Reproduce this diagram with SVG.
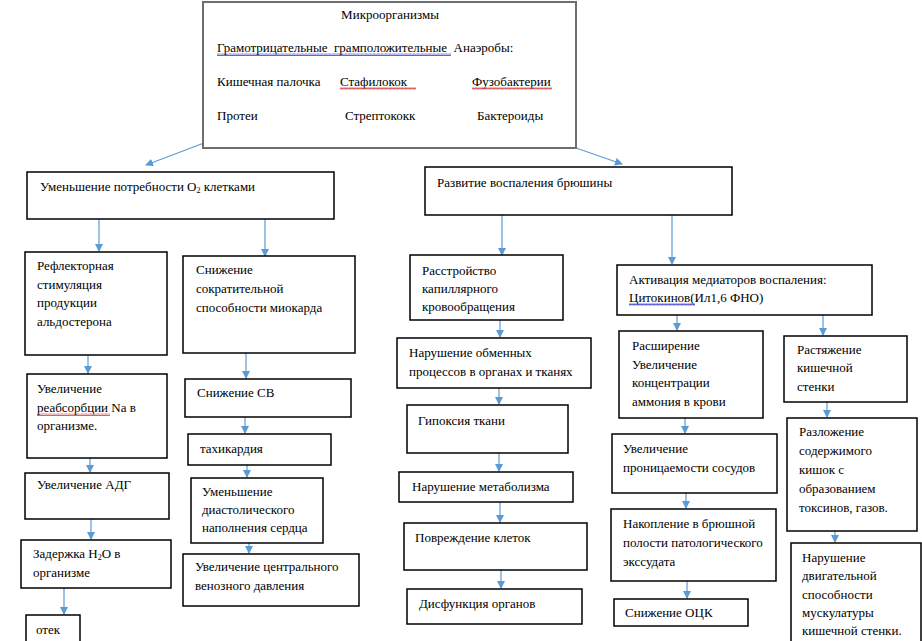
<svg xmlns="http://www.w3.org/2000/svg" width="922" height="641" viewBox="0 0 922 641">
<style>
.b{fill:#fff;stroke:#000;stroke-width:1.5}
.t{font-family:"Liberation Serif","Times New Roman",serif;font-size:13px;fill:#000}
.c{stroke:#5b9bd5;stroke-width:1.2;fill:none;marker-end:url(#ah)}
.wb{stroke:#3a3ad8;stroke-width:0.8;fill:none}
.wr{stroke:#d83a3a;stroke-width:0.8;fill:none}
</style>
<defs>
<marker id="ah" markerWidth="8" markerHeight="8" refX="7" refY="4" orient="auto" markerUnits="userSpaceOnUse">
<path d="M0,0 L8,4 L0,8 z" fill="#5b9bd5"/>
</marker>
<pattern id="wvb" width="4" height="3" patternUnits="userSpaceOnUse"><path d="M0,2.5 L1,0.5 L2,2.5 L3,0.5 L4,2.5" class="wb"/></pattern>
<pattern id="wvr" width="4" height="3" patternUnits="userSpaceOnUse"><path d="M0,2.5 L1,0.5 L2,2.5 L3,0.5 L4,2.5" class="wr"/></pattern>
</defs>
<rect width="922" height="641" fill="#fff"/>

<g id="connectors">
<line class="c" x1="204" y1="143" x2="146" y2="165"/>
<line class="c" x1="576" y1="148" x2="622" y2="164"/>
<line class="c" x1="99" y1="219" x2="99" y2="251"/>
<line class="c" x1="265" y1="219" x2="265" y2="256"/>
<line class="c" x1="502" y1="215" x2="502" y2="255"/>
<line class="c" x1="672" y1="215" x2="672" y2="264"/>
<line class="c" x1="88" y1="355" x2="88" y2="373"/>
<line class="c" x1="90" y1="458" x2="90" y2="472"/>
<line class="c" x1="91" y1="519" x2="91" y2="539"/>
<line class="c" x1="64" y1="588" x2="64" y2="614"/>
<line class="c" x1="246" y1="353" x2="246" y2="378"/>
<line class="c" x1="245" y1="417" x2="245" y2="433"/>
<line class="c" x1="247" y1="465" x2="247" y2="477"/>
<line class="c" x1="249" y1="543" x2="249" y2="553"/>
<line class="c" x1="500" y1="320" x2="500" y2="337"/>
<line class="c" x1="499" y1="388" x2="499" y2="404"/>
<line class="c" x1="499" y1="453" x2="499" y2="471"/>
<line class="c" x1="500" y1="502" x2="500" y2="522"/>
<line class="c" x1="501" y1="570" x2="501" y2="588"/>
<line class="c" x1="677" y1="315" x2="677" y2="330"/>
<line class="c" x1="685" y1="418" x2="685" y2="433"/>
<line class="c" x1="686" y1="493" x2="686" y2="508"/>
<line class="c" x1="687" y1="581" x2="687" y2="598"/>
<line class="c" x1="823" y1="315" x2="823" y2="335"/>
<line class="c" x1="827" y1="402" x2="827" y2="417"/>
<line class="c" x1="835" y1="531" x2="835" y2="542"/>
</g>

<g id="microorganisms">
<rect x="203" y="2" width="373" height="146" fill="#fff" stroke="#6e6e6e" stroke-width="2"/>
<text class="t" x="390" y="19" text-anchor="middle">Микроорганизмы</text>
<text class="t" x="217" y="52" xml:space="preserve">Грамотрицательные  грамположительные  Анаэробы:</text>
<rect x="217" y="53" width="234" height="3" fill="url(#wvb)"/>
<text class="t" x="217" y="86">Кишечная палочка</text>
<text class="t" x="340" y="86">Стафилокок</text>
<rect x="340" y="87" width="76" height="3" fill="url(#wvr)"/>
<text class="t" x="472" y="86">Фузобактерии</text>
<rect x="472" y="87" width="80" height="3" fill="url(#wvr)"/>
<text class="t" x="217" y="120">Протеи</text>
<text class="t" x="345" y="120">Стрептококк</text>
<text class="t" x="477" y="120">Бактероиды</text>
</g>

<g id="n_o2">
<rect class="b" x="27" y="172" width="307" height="47"/>
<text class="t" x="40" y="191">Уменьшение потребности O<tspan font-size="8" dy="2">2</tspan><tspan dy="-2"> клетками</tspan></text>
</g>
<g id="n_peritonitis">
<rect class="b" x="425" y="167" width="307" height="48"/>
<text class="t" x="437" y="187">Развитие воспаления брюшины</text>
</g>

<g id="n_aldo">
<rect class="b" x="25" y="252" width="142" height="103"/>
<text class="t" x="37" y="270">Рефлекторная</text>
<text class="t" x="37" y="289">стимуляция</text>
<text class="t" x="37" y="307">продукции</text>
<text class="t" x="37" y="326">альдостерона</text>
</g>
<g id="n_na">
<rect class="b" x="27" y="374" width="140" height="84"/>
<text class="t" x="37" y="393">Увеличение</text>
<text class="t" x="37" y="412">реабсорбции Na в</text>
<rect x="37" y="413" width="73" height="3" fill="url(#wvr)"/>
<text class="t" x="37" y="430">организме.</text>
</g>
<g id="n_adg">
<rect class="b" x="25" y="473" width="144" height="46"/>
<text class="t" x="37" y="489">Увеличение АДГ</text>
</g>
<g id="n_h2o">
<rect class="b" x="21" y="540" width="150" height="48"/>
<text class="t" x="33" y="558">Задержка H<tspan font-size="8" dy="2">2</tspan><tspan dy="-2">O в</tspan></text>
<text class="t" x="33" y="577">организме</text>
</g>
<g id="n_edema">
<rect class="b" x="26" y="615" width="54" height="30"/>
<text class="t" x="36" y="634">отек</text>
</g>

<g id="n_myocard">
<rect class="b" x="183" y="256" width="172" height="97"/>
<text class="t" x="196" y="274">Снижение</text>
<text class="t" x="196" y="293">сократительной</text>
<text class="t" x="196" y="312">способности миокарда</text>
</g>
<g id="n_sv">
<rect class="b" x="185" y="379" width="166" height="38"/>
<text class="t" x="197" y="397">Снижение СВ</text>
</g>
<g id="n_tachy">
<rect class="b" x="188" y="434" width="143" height="31"/>
<text class="t" x="200" y="453">тахикардия</text>
</g>
<g id="n_diast">
<rect class="b" x="191" y="478" width="132" height="65"/>
<text class="t" x="202" y="496">Уменьшение</text>
<text class="t" x="202" y="514">диастолического</text>
<text class="t" x="202" y="532">наполнения сердца</text>
</g>
<g id="n_cvp">
<rect class="b" x="183" y="554" width="176" height="52"/>
<text class="t" x="195" y="571">Увеличение центрального</text>
<text class="t" x="195" y="590">венозного давления</text>
</g>

<g id="n_capill">
<rect class="b" x="410" y="255" width="153" height="65"/>
<text class="t" x="422" y="275">Расстройство</text>
<text class="t" x="422" y="293">капиллярного</text>
<text class="t" x="422" y="311">кровообращения</text>
</g>
<g id="n_exchange">
<rect class="b" x="397" y="338" width="194" height="50"/>
<text class="t" x="409" y="357">Нарушение обменных</text>
<text class="t" x="409" y="376">процессов в органах и тканях</text>
</g>
<g id="n_hypoxia">
<rect class="b" x="407" y="405" width="161" height="48"/>
<text class="t" x="418" y="425">Гипоксия ткани</text>
</g>
<g id="n_metab">
<rect class="b" x="399" y="472" width="174" height="30"/>
<text class="t" x="412" y="491">Нарушение метаболизма</text>
</g>
<g id="n_cells">
<rect class="b" x="404" y="523" width="183" height="47"/>
<text class="t" x="415" y="542">Повреждение клеток</text>
</g>
<g id="n_dysf">
<rect class="b" x="407" y="589" width="175" height="35"/>
<text class="t" x="419" y="608">Дисфункция органов</text>
</g>

<g id="n_mediators">
<rect class="b" x="617" y="265" width="255" height="50"/>
<text class="t" x="629" y="284">Активация медиаторов воспаления:</text>
<text class="t" x="629" y="302">Цитокинов(Ил1,6 ФНО)</text>
<rect x="629" y="303" width="66" height="3" fill="url(#wvb)"/>
</g>
<g id="n_ammon">
<rect class="b" x="619" y="331" width="144" height="87"/>
<text class="t" x="632" y="350">Расширение</text>
<text class="t" x="632" y="369">Увеличение</text>
<text class="t" x="632" y="387">концентрации</text>
<text class="t" x="632" y="406">аммония в крови</text>
</g>
<g id="n_perm">
<rect class="b" x="612" y="434" width="165" height="59"/>
<text class="t" x="623" y="453">Увеличение</text>
<text class="t" x="623" y="472">проницаемости сосудов</text>
</g>
<g id="n_exud">
<rect class="b" x="611" y="509" width="165" height="72"/>
<text class="t" x="623" y="528">Накопление в брюшной</text>
<text class="t" x="623" y="547">полости патологического</text>
<text class="t" x="623" y="566">экссудата</text>
</g>
<g id="n_bcv">
<rect class="b" x="614" y="599" width="134" height="27"/>
<text class="t" x="625" y="617">Снижение ОЦК</text>
</g>

<g id="n_stretch">
<rect class="b" x="784" y="336" width="123" height="66"/>
<text class="t" x="797" y="354">Растяжение</text>
<text class="t" x="797" y="372">кишечной</text>
<text class="t" x="797" y="391">стенки</text>
</g>
<g id="n_decomp">
<rect class="b" x="787" y="418" width="130" height="113"/>
<text class="t" x="799" y="436">Разложение</text>
<text class="t" x="799" y="455">содержимого</text>
<text class="t" x="799" y="474">кишок с</text>
<text class="t" x="799" y="493">образованием</text>
<text class="t" x="799" y="512">токсинов, газов.</text>
</g>
<g id="n_motor">
<rect class="b" x="791" y="543" width="130" height="102"/>
<text class="t" x="802" y="562">Нарушение</text>
<text class="t" x="802" y="580">двигательной</text>
<text class="t" x="802" y="599">способности</text>
<text class="t" x="802" y="617">мускулатуры</text>
<text class="t" x="802" y="635">кишечной стенки.</text>
</g>
</svg>
